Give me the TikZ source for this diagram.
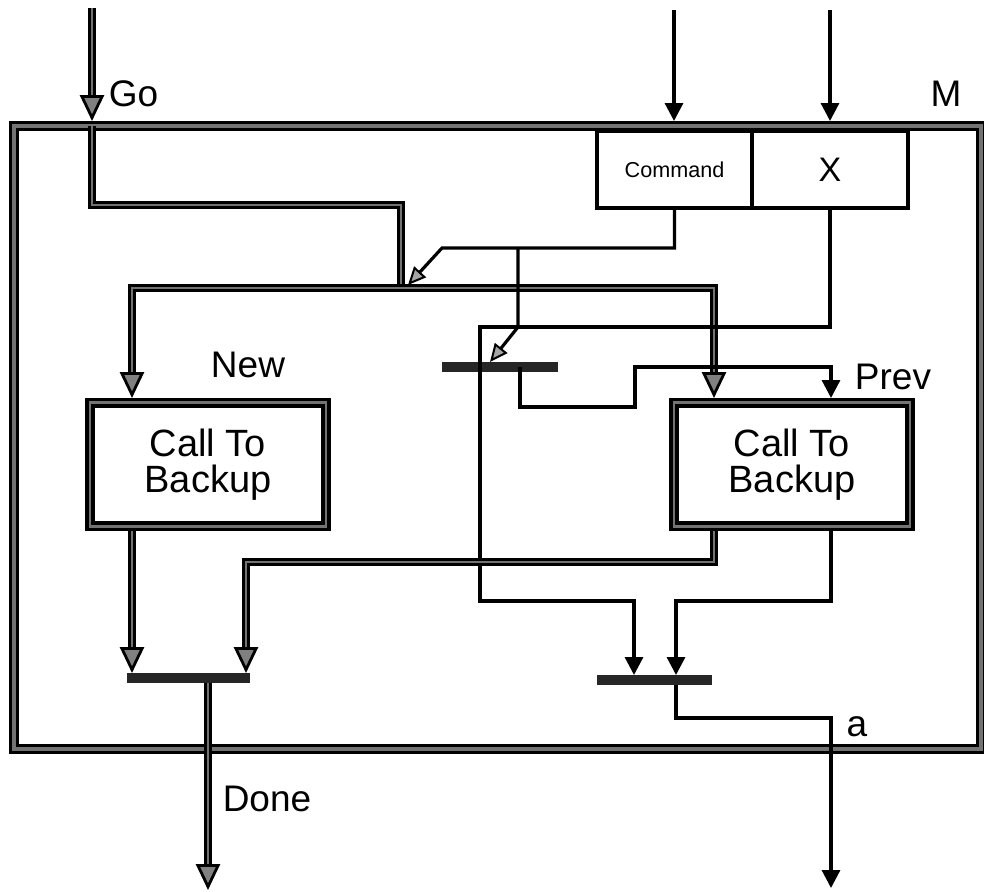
\documentclass[tikz,border=0pt]{standalone}
\usepackage{fontspec}
\setmainfont{Liberation Sans}
\usetikzlibrary{arrows.meta}
\begin{document}
\begin{tikzpicture}[x=0.5pt,y=-0.5pt,
  fat/.style={draw=black, line width=1.4pt, double=black!55, double distance=1.2pt, line join=miter},
  thin/.style={draw=black, line width=1.6pt, line join=miter},
  fattip/.style={-{Triangle[width=12pt,length=13pt,fill=black!50,line width=1.4pt]}},
  fattips/.style={{Triangle[width=12pt,length=13pt,fill=black!50,line width=1.4pt]}-{Triangle[width=12pt,length=13pt,fill=black!50,line width=1.4pt]}},
  filltip/.style={-{Triangle[width=9pt,length=9pt]}},
  opentip/.style={-{Triangle[width=8pt,length=9pt,fill=black!35,line width=1pt]}},
  frame/.style={draw=black, line width=1.6pt, double=black!55, double distance=2.2pt, inner sep=0pt},
  bigbox/.style={draw=black, line width=1.7pt, double=black!55, double distance=1.4pt, fill=white,
     minimum width=118pt, minimum height=61.7pt, align=center, inner sep=0pt,
     font=\fontsize{19pt}{18pt}\selectfont},
  regbox/.style={draw=black, line width=1.6pt, fill=white, minimum height=38.5pt, inner sep=0pt},
  bar/.style={fill=black!85, draw=none, minimum height=5pt, inner sep=0pt},
  lbl/.style={inner sep=0pt, font=\fontsize{18.5pt}{20pt}\selectfont}
]
\useasboundingbox (0,0) rectangle (984,891);

% frame
\node[frame, minimum width=483.5pt, minimum height=311.5pt] (M) at (497.5,437.5) {};
\node[lbl] (Mlbl) at (946,94) {M};

% registers
\node[regbox, minimum width=77.5pt, font=\fontsize{10.8pt}{12pt}\selectfont] (cmd) at (674.5,169.5) {Command};
\node[regbox, minimum width=78pt, font=\fontsize{17pt}{18pt}\selectfont] (xbox) at (830,169.5) {X};

% boxes
\node[bigbox] (new) at (208,464.5) {Call To\\Backup};
\node[bigbox] (prev) at (792,464.5) {Call To\\Backup};

% bars
\node[bar, minimum width=58pt] (midbar) at (500,367) {};
\node[bar, minimum width=61.5pt] (lbar) at (188.5,678) {};
\node[bar, minimum width=57.5pt] (rbar) at (654.5,680) {};

% labels
\node[lbl] (golbl) at (133.5,93.5) {Go};
\node[lbl] (newlbl) at (248,365) {New};
\node[lbl] (prevlbl) at (893,377) {Prev};
\node[lbl] (donelbl) at (267,799) {Done};
\node[lbl] (albl) at (857,727) {a};

% coordinates
\coordinate (gosrc) at (92,8);
\coordinate (goin) at (92,121);
\coordinate (gotop) at (92,126);
\coordinate (gobend) at (401,205);
\coordinate (busj) at (401,288);
\coordinate (busR) at (714,288);
\coordinate (newin) at (132,398);
\coordinate (previn1) at (714,398);
\coordinate (previn2) at (831,398);
\coordinate (cmdsrc) at (674,10);
\coordinate (cmdin) at (674,121);
\coordinate (xsrc) at (830,10);
\coordinate (xin) at (830,121);
\coordinate (c1) at (442,248);
\coordinate (cbus) at (408,285);
\coordinate (c2) at (518,248);
\coordinate (c3) at (518,327);
\coordinate (cbar) at (490,362);
\coordinate (x1) at (480,327);
\coordinate (x2) at (480,601);
\coordinate (x3) at (634,601);
\coordinate (rb1in) at (634,675);
\coordinate (m1) at (520,367);
\coordinate (m2) at (520,407);
\coordinate (m3) at (635,407);
\coordinate (m4) at (635,367);
\coordinate (newout) at (132,531);
\coordinate (lb1in) at (132,673);
\coordinate (prevout1) at (714,531);
\coordinate (p1) at (246,562);
\coordinate (lb2in) at (246,673);
\coordinate (prevout2) at (831,531);
\coordinate (p2) at (676,601);
\coordinate (rb2in) at (676,675);
\coordinate (donestart) at (208,683);
\coordinate (doneout) at (208,890);
\coordinate (astart) at (676,685);
\coordinate (a1) at (831,718);
\coordinate (aout) at (831,888);

% Go path
\draw[fat, fattip] (gosrc) -- (goin);
\draw[fat] (gotop) |- (gobend) -- (busj);
\draw[fat, fattips] (newin) |- (busR) -- (previn1);

% inputs
\draw[thin, filltip] (cmdsrc) -- (cmdin);
\draw[thin, filltip] (xsrc) -- (xin);

% command lines
\draw[thin, opentip] (cmd.south) |- (c1) -- (cbus);
\draw[thin, opentip] (c2) -- (c3) -- (cbar);

% X line
\draw[thin, filltip] (xbox.south) |- (x1) -- (x2) -- (x3) -- (rb1in);

% mid bar to prev
\draw[thin, filltip] (m1) -- (m2) -- (m3) -- (m4) -| (previn2);

% box outputs
\draw[fat, fattip] (newout) -- (lb1in);
\draw[fat, fattip] (prevout1) |- (p1) -- (lb2in);
\draw[thin, filltip] (prevout2) |- (p2) -- (rb2in);

% outputs
\draw[fat, fattip] (donestart) -- (doneout);
\draw[thin, filltip] (astart) |- (a1) -- (aout);
\end{tikzpicture}
\end{document}
